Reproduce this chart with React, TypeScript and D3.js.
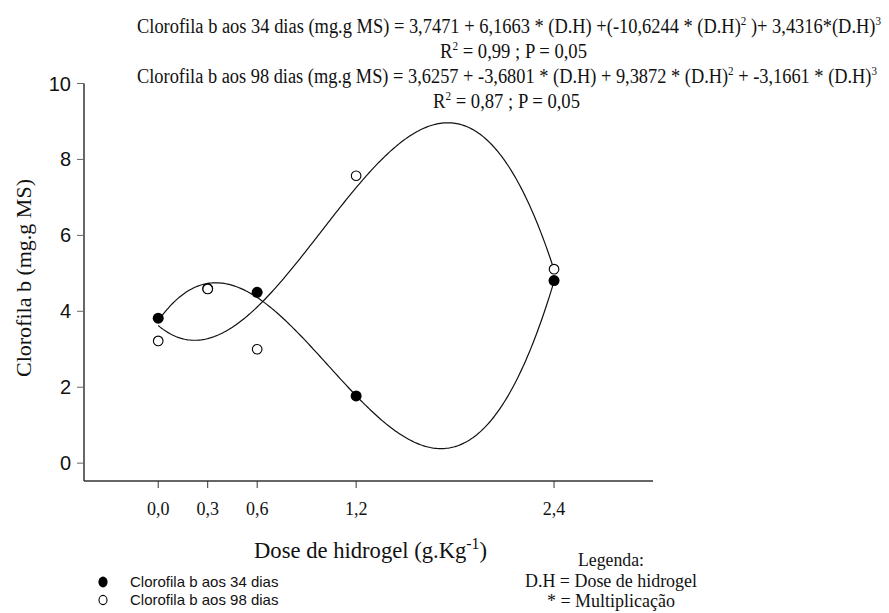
import React from "react";
import * as d3 from "d3";

// Dose de hidrogel (g.Kg-1)
const doses = [0, 0.3, 0.6, 1.2, 2.4];
const xTickLabels = ["0,0", "0,3", "0,6", "1,2", "2,4"];
const yTicks = [0, 2, 4, 6, 8, 10];

// Clorofila b (mg.g MS) observed
const clorofila34 = [3.82, 4.6, 4.5, 1.77, 4.81];
const clorofila98 = [3.22, 4.59, 3.0, 7.57, 5.11];

// Polynomial coefficients (intercept, D.H, D.H^2, D.H^3)
const coef34 = [3.7471, 6.1663, -10.6244, 3.4316];
const coef98 = [3.6257, -3.6801, 9.3872, -3.1661];

const legendLabels = ["Clorofila b aos 34 dias", "Clorofila b aos 98 dias"];
const noteLines = ["Legenda:", "D.H = Dose de hidrogel", "* = Multiplicação"];

const W = 889;
const H = 613;
const serif = "'Liberation Serif', 'Times New Roman', serif";
const sans = "'Liberation Sans', Arial, sans-serif";

const poly = (c: number[], x: number) =>
  c.reduce((acc, k, i) => acc + k * Math.pow(x, i), 0);

export default function App() {
  const x = d3.scaleLinear().domain([-0.45, 3.0]).range([84, 653]);
  const y = d3.scaleLinear().domain([-0.47, 10]).range([481, 83.5]);

  const grid = d3.range(0, 2.4001, 0.01);
  const line = d3
    .line<number>()
    .x((d) => x(d))
    .curve(d3.curveLinear);

  const path34 = line.y((d) => y(poly(coef34, d)))(grid) || "";
  const path98 = line.y((d) => y(poly(coef98, d)))(grid) || "";

  const axisColor = "#333";

  // abbreviation note block: centre, widths and baselines
  const noteCx = 611;
  const noteW = [66, 172, 128];
  const noteY = [566, 587, 607];

  return (
    <svg
      width={W}
      height={H}
      style={{ position: "absolute", left: 0, top: 0, background: "#fff" }}
    >
      <rect width={W} height={H} fill="#fff" />

      {/* equations */}
      <g fontFamily={serif} fontSize={20} fill="#111">
        <text x={137} y={33} textLength={744} lengthAdjust="spacingAndGlyphs">
          Clorofila b aos 34 dias (mg.g MS)  = 3,7471 + 6,1663 * (D.H) +(-10,6244 * (D.H)
          <tspan dy={-8} fontSize={12}>2</tspan>
          <tspan dy={8}> )+ 3,4316*(D.H)</tspan>
          <tspan dy={-8} fontSize={12}>3</tspan>
        </text>
        <text x={440} y={58} textLength={147} lengthAdjust="spacingAndGlyphs">
          R<tspan dy={-8} fontSize={12}>2</tspan>
          <tspan dy={8}> = 0,99 ; P = 0,05</tspan>
        </text>
        <text x={137} y={83} textLength={740} lengthAdjust="spacingAndGlyphs">
          Clorofila b aos 98 dias (mg.g MS) = 3,6257 + -3,6801 * (D.H) + 9,3872 * (D.H)
          <tspan dy={-8} fontSize={12}>2</tspan>
          <tspan dy={8}> + -3,1661 * (D.H)</tspan>
          <tspan dy={-8} fontSize={12}>3</tspan>
        </text>
        <text x={433} y={108} textLength={147} lengthAdjust="spacingAndGlyphs">
          R<tspan dy={-8} fontSize={12}>2</tspan>
          <tspan dy={8}> = 0,87 ; P = 0,05</tspan>
        </text>
      </g>

      {/* y axis */}
      <line x1={84} x2={84} y1={y(10)} y2={481} stroke={axisColor} strokeWidth={1.5} />
      {yTicks.map((t) => (
        <g key={t}>
          <line x1={77} x2={84} y1={y(t)} y2={y(t)} stroke="#666" strokeWidth={1} />
          <text
            x={71}
            y={y(t)}
            dy="0.35em"
            textAnchor="end"
            fontFamily={sans}
            fontSize={20}
            fill="#111"
          >
            {t}
          </text>
        </g>
      ))}
      <text
        transform="translate(31,278) rotate(-90)"
        textAnchor="middle"
        fontFamily={serif}
        fontSize={22}
        fill="#111"
      >
        Clorofila b (mg.g MS)
      </text>

      {/* x axis */}
      <line x1={84} x2={653} y1={481} y2={481} stroke={axisColor} strokeWidth={1.5} />
      {doses.map((d, i) => (
        <g key={d}>
          <line x1={x(d)} x2={x(d)} y1={481} y2={488} stroke={axisColor} strokeWidth={1} />
          <text
            x={x(d)}
            y={515}
            textAnchor="middle"
            fontFamily={serif}
            fontSize={18}
            fill="#111"
          >
            {xTickLabels[i]}
          </text>
        </g>
      ))}
      <text
        x={254}
        y={558}
        fontFamily={serif}
        fontSize={23}
        fill="#111"
        textLength={233}
        lengthAdjust="spacingAndGlyphs"
      >
        Dose de hidrogel (g.Kg
        <tspan dy={-9} fontSize={16}>-1</tspan>
        <tspan dy={9}>)</tspan>
      </text>

      {/* fitted curves */}
      <path d={path34} fill="none" stroke="#111" strokeWidth={1.2} />
      <path d={path98} fill="none" stroke="#111" strokeWidth={1.2} />

      {/* observed points */}
      {doses.map((d, i) => (
        <circle key={"a" + d} cx={x(d)} cy={y(clorofila34[i])} r={5.5} fill="#000" />
      ))}
      {doses.map((d, i) => (
        <circle
          key={"b" + d}
          cx={x(d)}
          cy={y(clorofila98[i])}
          r={4.8}
          fill="#fff"
          stroke="#000"
          strokeWidth={1.1}
        />
      ))}

      {/* series legend */}
      <ellipse cx={103} cy={582} rx={4.6} ry={5.4} fill="#000" />
      <ellipse cx={103} cy={600} rx={4} ry={4.6} fill="#fff" stroke="#000" strokeWidth={1.1} />
      <text x={130} y={587} fontFamily={sans} fontSize={15} fill="#111">
        {legendLabels[0]}
      </text>
      <text x={130} y={605} fontFamily={sans} fontSize={15} fill="#111">
        {legendLabels[1]}
      </text>

      {/* abbreviation note */}
      <g fontFamily={serif} fontSize={19} fill="#111">
        {noteLines.map((t, i) => (
          <text
            key={t}
            x={noteCx - noteW[i] / 2}
            y={noteY[i]}
            textLength={noteW[i]}
            lengthAdjust="spacingAndGlyphs"
          >
            {t}
          </text>
        ))}
      </g>
    </svg>
  );
}
